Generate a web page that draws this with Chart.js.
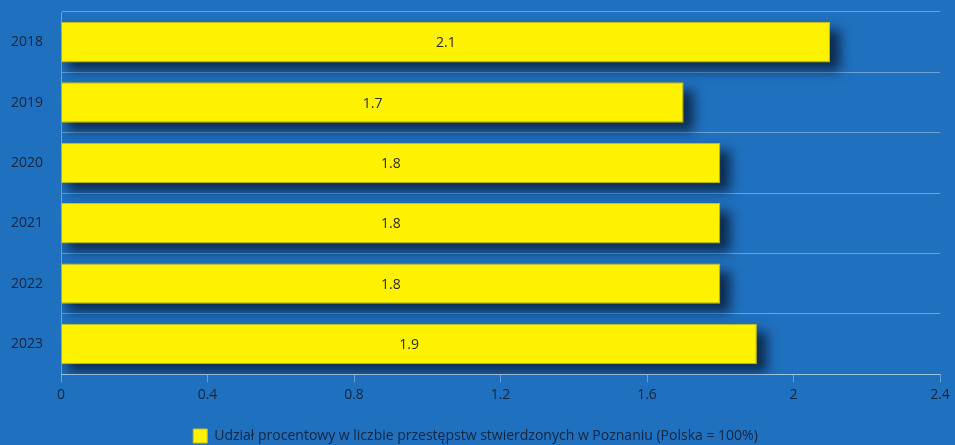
<!DOCTYPE html>
<html>
<head>
<meta charset="utf-8">
<script src="https://cdn.jsdelivr.net/npm/chart.js@4/dist/chart.umd.min.js"></script>
<style>
  html, body { margin: 0; padding: 0; background: #1f70be; }
  #wrap { width: 955px; height: 445px; }
</style>
</head>
<body>
<div id="wrap"><canvas id="chart" width="955" height="445"></canvas></div>
<script>
// data
const years = ['2018', '2019', '2020', '2021', '2022', '2023'];
const shares = [2.1, 1.7, 1.8, 1.8, 1.8, 1.9];
const seriesName = 'Udział procentowy w liczbie przestępstw stwierdzonych w Poznaniu (Polska = 100%)';

const textColor = '#16253d';
const lineColor = 'rgba(255,255,255,0.35)';
const fontFamily = '"Open Sans", sans-serif';

// soft shadow behind the bars, drawn before the bars themselves
const barShadow = {
  id: 'barShadow',
  beforeDatasetsDraw(chart) {
    const ctx = chart.ctx;
    const area = chart.chartArea;
    const meta = chart.getDatasetMeta(0);
    ctx.save();
    ctx.beginPath();
    ctx.rect(area.left, area.top, area.right - area.left + 30, area.bottom - area.top);
    ctx.clip();
    ctx.filter = 'blur(6px)';
    ctx.fillStyle = 'rgba(8,30,60,0.85)';
    meta.data.forEach(function(bar) {
      const h = bar.height;
      ctx.fillRect(bar.base + 6, bar.y - h / 2 + 8, bar.x - bar.base + 4, h);
    });
    ctx.restore();
  }
};

// value in the middle of each bar
const barLabels = {
  id: 'barLabels',
  afterDatasetsDraw(chart) {
    const ctx = chart.ctx;
    const meta = chart.getDatasetMeta(0);
    ctx.save();
    ctx.font = '14px ' + fontFamily;
    ctx.fillStyle = '#2a2a2a';
    ctx.textAlign = 'center';
    ctx.textBaseline = 'middle';
    meta.data.forEach(function(bar, i) {
      const cx = (bar.x + bar.base) / 2;
      ctx.fillText(String(shares[i]), cx, bar.y + 1);
    });
    ctx.restore();
  }
};

new Chart(document.getElementById('chart'), {
  type: 'bar',
  data: {
    labels: years,
    datasets: [{
      label: seriesName,
      data: shares,
      backgroundColor: '#fff200',
      borderColor: '#c9bf1a',
      borderWidth: 1,
      categoryPercentage: 0.67,
      barPercentage: 1
    }]
  },
  options: {
    indexAxis: 'y',
    responsive: false,
    animation: false,
    layout: { padding: { top: 12, right: 15, left: 11, bottom: -8 } },
    scales: {
      x: {
        min: 0,
        max: 2.4,
        ticks: {
          stepSize: 0.4,
          color: textColor,
          font: { size: 14, family: fontFamily },
          padding: 4,
          callback: function(v) { return String(Math.round(v * 10) / 10); }
        },
        grid: { drawOnChartArea: false, drawTicks: true, tickLength: 8, color: lineColor },
        border: { color: lineColor, width: 1 },
        afterFit: function(scale) { scale.height += 16; }
      },
      y: {
        ticks: { color: textColor, font: { size: 14, family: fontFamily }, padding: 0 },
        grid: { offset: true, drawTicks: true, tickLength: 18, tickColor: 'rgba(0,0,0,0)', color: lineColor },
        border: { color: lineColor, width: 1 }
      }
    },
    plugins: {
      tooltip: { enabled: false },
      legend: {
        position: 'bottom',
        labels: {
          color: textColor,
          font: { size: 14, family: fontFamily },
          boxWidth: 14,
          boxHeight: 14,
          padding: 6
        }
      }
    }
  },
  plugins: [barShadow, barLabels]
});
</script>
</body>
</html>
